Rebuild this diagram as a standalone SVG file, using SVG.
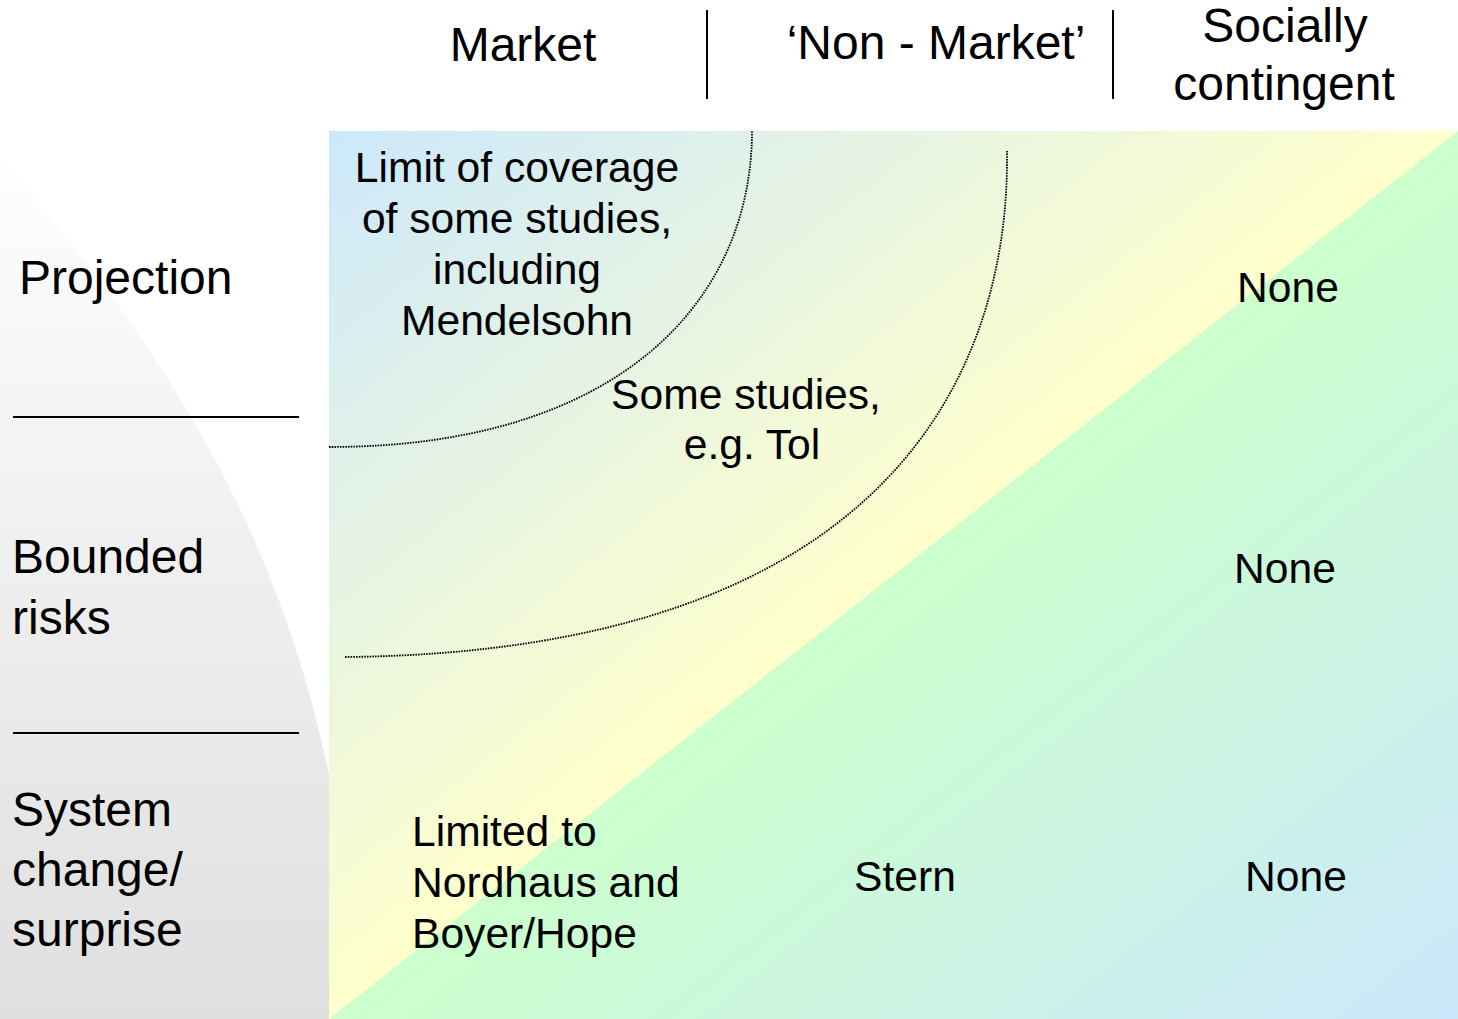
<svg xmlns="http://www.w3.org/2000/svg" width="1458" height="1019" viewBox="0 0 1458 1019">
  <defs>
    <!-- diagonal fill of the matrix: blue, yellow | green, blue -->
    <linearGradient id="matrixFill" x1="0" y1="0" x2="1" y2="1">
      <stop offset="0" stop-color="#cce8fb"/>
      <stop offset="0.5" stop-color="#ffffcc"/>
      <stop offset="0.5" stop-color="#ccffcc"/>
      <stop offset="1" stop-color="#cbe8fc"/>
    </linearGradient>
    <!-- soft grey backdrop behind the row labels -->
    <linearGradient id="sideFill" gradientUnits="userSpaceOnUse" x1="0" y1="120" x2="0" y2="1019">
      <stop offset="0" stop-color="#ffffff"/>
      <stop offset="1" stop-color="#dfdfdf"/>
    </linearGradient>
    <style>
      text { font-family: "Liberation Sans", Arial, sans-serif; fill: #000; }
      .head { font-size: 48px; }
      .cell { font-size: 42.6px; }
      .mid { text-anchor: middle; }
      .rule { stroke: #000; stroke-width: 2; fill: none; }
      .bound { stroke: #000; stroke-width: 1.8; stroke-dasharray: 1.6 1.1; fill: none; }
    </style>
  </defs>

  <rect width="1458" height="1019" fill="#ffffff"/>

  <!-- left backdrop with curved edge -->
  <path id="side-backdrop" d="M0,158 C150,330 280,520 332,790 L332,1019 L0,1019 Z" fill="url(#sideFill)"/>

  <!-- matrix area -->
  <rect id="matrix" x="329" y="131" width="1129" height="888" fill="url(#matrixFill)"/>

  <!-- column and row dividers -->
  <g id="rules">
    <line class="rule" x1="707" y1="10" x2="707" y2="99"/>
    <line class="rule" x1="1113" y1="10" x2="1113" y2="99"/>
    <line class="rule" x1="13" y1="417" x2="299" y2="417"/>
    <line class="rule" x1="13" y1="733" x2="299" y2="733"/>
  </g>

  <!-- dotted coverage boundaries -->
  <g id="connectors">
    <path class="bound" d="M329,447 C620,447 752,300 752,131"/>
    <path class="bound" d="M345,657 C890,652 1010,370 1007,151"/>
  </g>

  <!-- column headings -->
  <g id="col-market"><text class="head mid" x="523" y="61">Market</text></g>
  <g id="col-nonmarket"><text class="head mid" x="936" y="59">‘Non - Market’</text></g>
  <g id="col-social">
    <text class="head mid" x="1285" y="42">Socially</text>
    <text class="head mid" x="1284" y="100">contingent</text>
  </g>

  <!-- row headings -->
  <g id="row-projection"><text class="head" x="19" y="294">Projection</text></g>
  <g id="row-bounded">
    <text class="head" x="12" y="573">Bounded</text>
    <text class="head" x="12" y="634">risks</text>
  </g>
  <g id="row-system">
    <text class="head" x="12" y="826">System</text>
    <text class="head" x="12" y="886">change/</text>
    <text class="head" x="12" y="946">surprise</text>
  </g>

  <!-- cell contents -->
  <g id="cell-limit">
    <text class="cell mid" x="517" y="182">Limit of coverage</text>
    <text class="cell mid" x="517" y="233">of some studies,</text>
    <text class="cell mid" x="517" y="284">including</text>
    <text class="cell mid" x="517" y="335">Mendelsohn</text>
  </g>
  <g id="cell-some">
    <text class="cell mid" x="746" y="409">Some studies,</text>
    <text class="cell mid" x="752" y="459">e.g. Tol</text>
  </g>
  <g id="cell-none-1"><text class="cell mid" x="1288" y="302">None</text></g>
  <g id="cell-none-2"><text class="cell mid" x="1285" y="583">None</text></g>
  <g id="cell-limited">
    <text class="cell" x="412" y="846">Limited to</text>
    <text class="cell" x="412" y="897">Nordhaus and</text>
    <text class="cell" x="412" y="948">Boyer/Hope</text>
  </g>
  <g id="cell-stern"><text class="cell mid" x="905" y="891">Stern</text></g>
  <g id="cell-none-3"><text class="cell mid" x="1296" y="891">None</text></g>
</svg>
